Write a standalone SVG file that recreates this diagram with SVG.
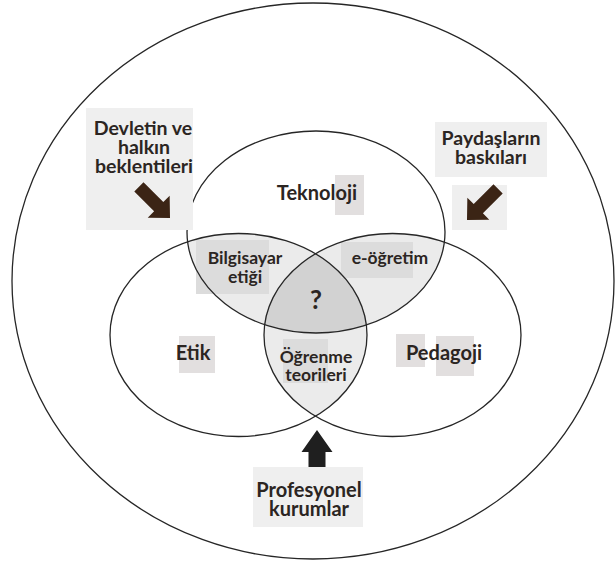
<svg xmlns="http://www.w3.org/2000/svg" width="615" height="562" viewBox="0 0 615 562">
  <style>
    .ring { fill: none; stroke: #262626; stroke-width: 1.3; }
    .lbl { font-family: Lato, "Liberation Sans", sans-serif; font-weight: 700; fill: #2b2522; text-anchor: middle; }
    .big { font-size: 20px; }
    .mid { font-size: 17.5px; }
    .side { font-size: 19.5px; }
    .pane { fill: #efefef; }
    .patch { fill: #e2dfdf; }
    .patch-dk { fill: #dcdcdc; }
    .pair { fill: #ebebeb; }
    .core { fill: #d2d2d2; }
    .brown { fill: #3b2415; }
    .dark { fill: #1f1f1f; }
  </style>
  <defs>
    <clipPath id="clipTech"><ellipse cx="316" cy="232" rx="129" ry="101"/></clipPath>
    <clipPath id="clipEthics"><ellipse cx="238.5" cy="335" rx="128.5" ry="101.5"/></clipPath>
    <path id="blockArrow" d="M0,-6.5 L28,-6.5 L28,-15.5 L44,0 L28,15.5 L28,6.5 L0,6.5 Z"/>
  </defs>

  <rect width="615" height="562" fill="#ffffff"/>

  <!-- surrounding context -->
  <g id="context">
    <ellipse class="ring" cx="313" cy="281" rx="301" ry="278"/>
  </g>

  <!-- overlap shading -->
  <g id="overlaps">
    <ellipse class="pair" cx="238.5" cy="335" rx="128.5" ry="101.5" clip-path="url(#clipTech)"/>
    <ellipse class="pair" cx="392.5" cy="335" rx="128.5" ry="101.5" clip-path="url(#clipTech)"/>
    <ellipse class="pair" cx="392.5" cy="335" rx="128.5" ry="101.5" clip-path="url(#clipEthics)"/>
    <g clip-path="url(#clipTech)">
      <ellipse class="core" cx="392.5" cy="335" rx="128.5" ry="101.5" clip-path="url(#clipEthics)"/>
    </g>
  </g>

  <!-- label patches -->
  <g id="patches">
    <rect class="patch" x="335" y="175" width="29" height="40"/>
    <rect class="patch-dk" x="196" y="240" width="73" height="54"/>
    <rect class="patch-dk" x="341" y="242" width="72" height="36"/>
    <rect class="patch" x="179" y="336" width="36" height="37"/>
    <rect class="patch-dk" x="283" y="339" width="45" height="44"/>
    <rect class="patch" x="396" y="334" width="29" height="33"/>
    <rect class="patch" x="436" y="336" width="38" height="40"/>
  </g>

  <!-- three domains -->
  <g id="technology">
    <ellipse class="ring" cx="316" cy="232" rx="129" ry="101"/>
    <text class="lbl big" x="317" y="200">Teknoloji</text>
  </g>
  <g id="ethics">
    <ellipse class="ring" cx="238.5" cy="335" rx="128.5" ry="101.5"/>
    <text class="lbl big" x="193" y="360">Etik</text>
  </g>
  <g id="pedagogy">
    <ellipse class="ring" cx="392.5" cy="335" rx="128.5" ry="101.5"/>
    <text class="lbl big" x="444" y="360">Pedagoji</text>
  </g>

  <!-- overlap labels -->
  <g id="computer-ethics">
    <text class="lbl mid" x="245" y="264">Bilgisayar</text>
    <text class="lbl mid" x="245" y="283">etiği</text>
  </g>
  <g id="e-learning">
    <text class="lbl mid" x="390" y="264">e-öğretim</text>
  </g>
  <g id="learning-theories">
    <text class="lbl mid" x="316" y="363">Öğrenme</text>
    <text class="lbl mid" x="316" y="381">teorileri</text>
  </g>
  <g id="unknown">
    <text class="lbl" x="316" y="309" font-size="26">?</text>
  </g>

  <!-- outside influences -->
  <g id="public-expectations">
    <rect class="pane" x="86" y="108" width="107" height="122"/>
    <text class="lbl side" x="143" y="135">Devletin ve</text>
    <text class="lbl side" x="144" y="154">halkın</text>
    <text class="lbl side" x="144" y="173">beklentileri</text>
  </g>
  <g id="stakeholder-pressure">
    <rect class="pane" x="435" y="122" width="112" height="55"/>
    <rect class="pane" x="452" y="185" width="55" height="45"/>
    <text class="lbl side" x="491" y="145">Paydaşların</text>
    <text class="lbl side" x="491" y="164">baskıları</text>
  </g>
  <g id="professional-bodies">
    <rect class="pane" x="253" y="467" width="110" height="60"/>
    <text class="lbl big" x="309" y="497">Profesyonel</text>
    <text class="lbl big" x="309" y="516">kurumlar</text>
  </g>

  <!-- influence arrows -->
  <g id="connectors">
    <use href="#blockArrow" class="brown" transform="translate(138.9,186.9) rotate(45)"/>
    <use href="#blockArrow" class="brown" transform="translate(498.1,188.9) rotate(135)"/>
    <path class="dark" d="M308.5,467 L308.5,452 L301.5,452 L317,430 L332.5,452 L325.5,452 L325.5,467 Z"/>
  </g>
</svg>
